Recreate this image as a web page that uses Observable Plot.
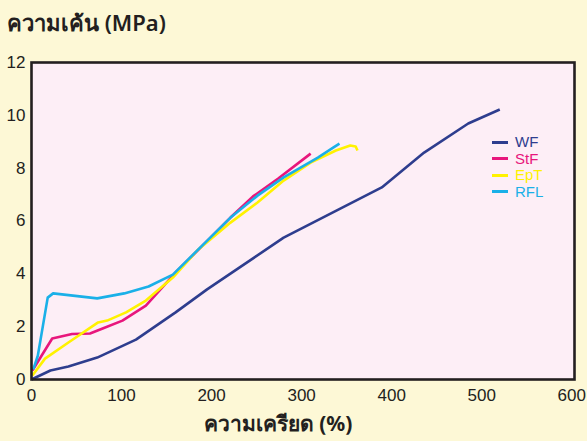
<!DOCTYPE html>
<html>
<head>
<meta charset="utf-8">
<script src="https://cdn.jsdelivr.net/npm/d3@7"></script>
<script src="https://cdn.jsdelivr.net/npm/@observablehq/plot@0.6"></script>
<style>
  html, body { margin: 0; padding: 0; background: #fdf8d6; }
  #wrap { position: relative; width: 587px; height: 441px; background: #fdf8d6; overflow: hidden;
          font-family: "Liberation Sans", Arial, sans-serif; color: #231f20; }
  #title { height: 42px; box-sizing: border-box; padding: 8px 0 0 7px; font-size: 22px; font-weight: 600;
           line-height: 28px; font-family: "Noto Sans", "Liberation Sans", sans-serif; }
  #xlabel { width: 556px; text-align: center; font-size: 21px; font-weight: 700; line-height: 28px;
            font-family: "Noto Sans", "Liberation Sans", sans-serif; padding-top: 4px; }
  #legend { position: absolute; left: 492px; top: 134px; font-size: 15px; }
  #legend .row { display: flex; align-items: center; height: 16.5px; }
  #legend .sw { width: 16px; height: 3px; margin-right: 7px; }
  #legend .tx { display: block; line-height: 16px; height: 16px; }
  svg { display: block; }
</style>
</head>
<body>
<div id="wrap">
  <div id="title">ความเค้น (MPa)</div>
  <div id="chart"></div>
  <div id="xlabel">ความเครียด (%)</div>
  <div id="legend"></div>
</div>
<script>
// Series names and colours
const seriesNames = ["WF", "StF", "EpT", "RFL"];
const seriesColors = ["#2e3d8e", "#e8167c", "#fff200", "#1ab0e8"];

// Strain (%) and stress (MPa)
const wfStrain  = [0, 21, 41, 73, 116, 160, 195, 280, 389, 436, 485, 520];
const wfStress  = [0, 0.34, 0.49, 0.83, 1.51, 2.54, 3.41, 5.37, 7.27, 8.59, 9.69, 10.22];

const stfStrain = [1, 23, 45, 65, 79, 101, 127, 160, 188, 221, 246, 274, 310];
const stfStress = [0.34, 1.55, 1.72, 1.74, 1.93, 2.23, 2.80, 4.05, 5.0, 6.13, 6.93, 7.61, 8.55];

const eptStrain = [1, 15, 41, 74, 84, 105, 127, 157, 184, 221, 251, 280, 310, 338, 354, 360, 362];
const eptStress = [0.15, 0.79, 1.40, 2.16, 2.23, 2.54, 2.99, 3.86, 4.88, 5.94, 6.70, 7.53, 8.21, 8.67, 8.86, 8.82, 8.67];

const rflStrain = [2, 7, 18, 24, 73, 103, 130, 157, 221, 251, 280, 318, 335, 342];
const rflStress = [0.38, 0.9, 3.1, 3.26, 3.07, 3.26, 3.52, 3.97, 6.13, 6.96, 7.65, 8.40, 8.78, 8.93];

// Axis ticks
const xTicks = [0, 100, 200, 300, 400, 500, 600];
const yTicks = [0, 2, 4, 6, 8, 10, 12];

const strains = [wfStrain, stfStrain, eptStrain, rflStrain];
const stresses = [wfStress, stfStress, eptStress, rflStress];
const rows = [];
seriesNames.forEach((name, i) => {
  strains[i].forEach((s, j) => rows.push({series: name, strain: s, stress: stresses[i][j]}));
});

const plot = Plot.plot({
  width: 587,
  height: 363,
  marginTop: 20,
  marginBottom: 26,
  marginLeft: 31,
  marginRight: 13,
  style: { fontSize: "17px", fontFamily: "'Liberation Sans', Arial, sans-serif", color: "#231f20", background: "transparent", overflow: "visible" },
  x: { domain: [0, 603] },
  y: { domain: [0, 12] },
  color: { domain: seriesNames, range: seriesColors },
  marks: [
    Plot.frame({ fill: "#fdeef6", stroke: null }),
    Plot.line(rows, { x: "strain", y: "stress", z: "series", stroke: "series", strokeWidth: 2.6, strokeLinejoin: "round", strokeLinecap: "butt" }),
    Plot.frame({ stroke: "#231f20", strokeWidth: 2.6 }),
    Plot.axisX({ ticks: xTicks, tickSize: 0, tickPadding: 9, label: null }),
    Plot.axisY({ ticks: yTicks, tickSize: 0, tickPadding: 6, label: null })
  ]
});
document.getElementById("chart").appendChild(plot);

const legend = document.getElementById("legend");
seriesNames.forEach((name, i) => {
  const row = document.createElement("div");
  row.className = "row";
  row.innerHTML = `<span class="sw" style="background:${seriesColors[i]}"></span><span class="tx" style="color:${seriesColors[i]}">${name}</span>`;
  legend.appendChild(row);
});
</script>
</body>
</html>
